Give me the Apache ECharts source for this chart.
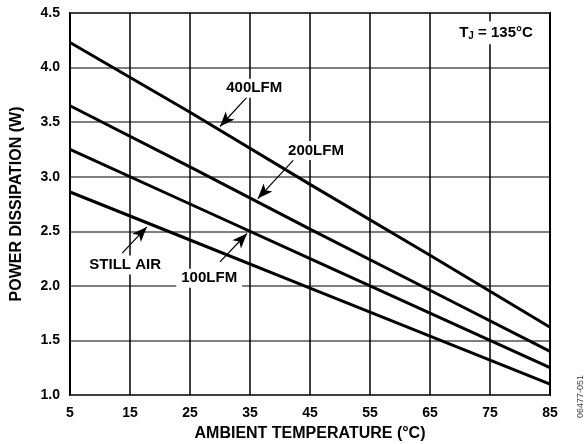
<!DOCTYPE html>
<html>
<head>
<meta charset="utf-8">
<script src="https://cdn.jsdelivr.net/npm/echarts@6/dist/echarts.min.js"></script>
<style>html,body{margin:0;padding:0;background:#fff}#c{width:588px;height:444px}</style>
</head>
<body>
<div id="c"></div>
<script>
var temps = [5, 25, 45, 65, 85];
var lfm400 = [4.23, 3.59, 2.93, 2.28, 1.62];
var lfm200 = [3.65, 3.09, 2.52, 1.96, 1.40];
var lfm100 = [3.25, 2.75, 2.25, 1.75, 1.25];
var stillAir = [2.86, 2.42, 1.98, 1.54, 1.10];
var xTicks = [5, 15, 25, 35, 45, 55, 65, 75, 85];
var yTicks = [1.0, 1.5, 2.0, 2.5, 3.0, 3.5, 4.0, 4.5];

var labels = [
  {name: '400LFM', pos: [35.7, 3.81]},
  {name: '200LFM', pos: [46.0, 3.24]},
  {name: 'STILL AIR', pos: [14.2, 2.19]},
  {name: '100LFM', pos: [28.2, 2.07]}
];
var arrows = [
  [[34.5, 3.73], [30.0, 3.46]],
  [[42.2, 3.15], [36.3, 2.80]],
  [[13.7, 2.30], [17.8, 2.54]],
  [[30.0, 2.22], [34.5, 2.48]]
];

function pairs(vals) { return temps.map(function (t, i) { return [t, vals[i]]; }); }
var font = 'Liberation Sans, Arial, sans-serif';
var chart = echarts.init(document.getElementById('c'), null, {renderer: 'canvas'});

function lineSeries(name, vals) {
  return {name: name, type: 'line', data: pairs(vals), symbol: 'none',
    lineStyle: {color: '#000', width: 3}, z: 5, silent: true};
}

var series = [
  lineSeries('400LFM', lfm400),
  lineSeries('200LFM', lfm200),
  lineSeries('100LFM', lfm100),
  lineSeries('STILL AIR', stillAir),
  {
    type: 'line', data: [], symbol: 'none',
    markLine: {
      silent: true, symbol: ['none', 'arrow'], symbolSize: [9, 15],
      lineStyle: {color: '#000', width: 1.2, type: 'solid', opacity: 1}, label: {show: false},
      data: arrows.map(function (a) { return [{coord: a[0]}, {coord: a[1]}]; })
    }, z: 6
  },
  {
    type: 'scatter', symbolSize: 0, z: 7, silent: true,
    itemStyle: {opacity: 1},
    data: labels.map(function (l) {
      return {value: l.pos, name: l.name, label: {
        show: true, position: 'inside', formatter: l.name, color: '#000', opacity: 1,
        fontFamily: font, fontWeight: 'bold', fontSize: 15,
        backgroundColor: '#fff', padding: [2, 5]
      }};
    })
  },
  {
    type: 'scatter', symbolSize: 0, z: 7, silent: true,
    itemStyle: {opacity: 1},
    data: [{value: [76, 4.32], label: {
      show: true, position: 'inside', formatter: '{a|T}{s|J}{a| = 135°C}', opacity: 1,
      backgroundColor: '#fff', padding: [3, 4],
      rich: {
        a: {fontFamily: font, fontWeight: 'bold', fontSize: 15, color: '#000'},
        s: {fontFamily: font, fontWeight: 'bold', fontSize: 10, color: '#000', verticalAlign: 'bottom', padding: [7, 0, 0, 0]}
      }
    }}]
  }
];

chart.setOption({
  animation: false,
  backgroundColor: '#fff',
  grid: {left: 70, right: 38, top: 13, bottom: 49, show: true, borderColor: '#000', borderWidth: 2,
    containLabel: false, outerBoundsMode: 'none'},
  xAxis: {
    type: 'value', min: 5, max: 85, interval: 10,
    name: 'AMBIENT TEMPERATURE (°C)', nameLocation: 'middle', nameGap: 31,
    nameTextStyle: {fontFamily: font, fontWeight: 'bold', fontSize: 16, color: '#000'},
    axisLine: {show: false}, axisTick: {show: false},
    axisLabel: {fontFamily: font, fontWeight: 'bold', fontSize: 14, color: '#000', margin: 11,
      formatter: function (v) { return xTicks.indexOf(v) >= 0 ? String(v) : ''; }},
    splitLine: {show: true, lineStyle: {color: '#000', width: 1.5}}
  },
  yAxis: {
    type: 'value', min: 1.0, max: 4.5, interval: 0.5,
    name: 'POWER DISSIPATION (W)', nameLocation: 'middle', nameGap: 45,
    nameTextStyle: {fontFamily: font, fontWeight: 'bold', fontSize: 16, color: '#000'},
    axisLine: {show: false}, axisTick: {show: false},
    axisLabel: {fontFamily: font, fontWeight: 'bold', fontSize: 14, color: '#000', margin: 10,
      formatter: function (v) { return yTicks.indexOf(v) >= 0 ? v.toFixed(1) : ''; }},
    splitLine: {show: true, lineStyle: {color: '#555', width: 1.5}}
  },
  graphic: [{
    type: 'text', left: 576, top: 375, rotation: Math.PI / 2,
    style: {text: '06477-051', font: '9px ' + font, fill: '#444'}
  }],
  series: series
});
</script>
</body>
</html>
